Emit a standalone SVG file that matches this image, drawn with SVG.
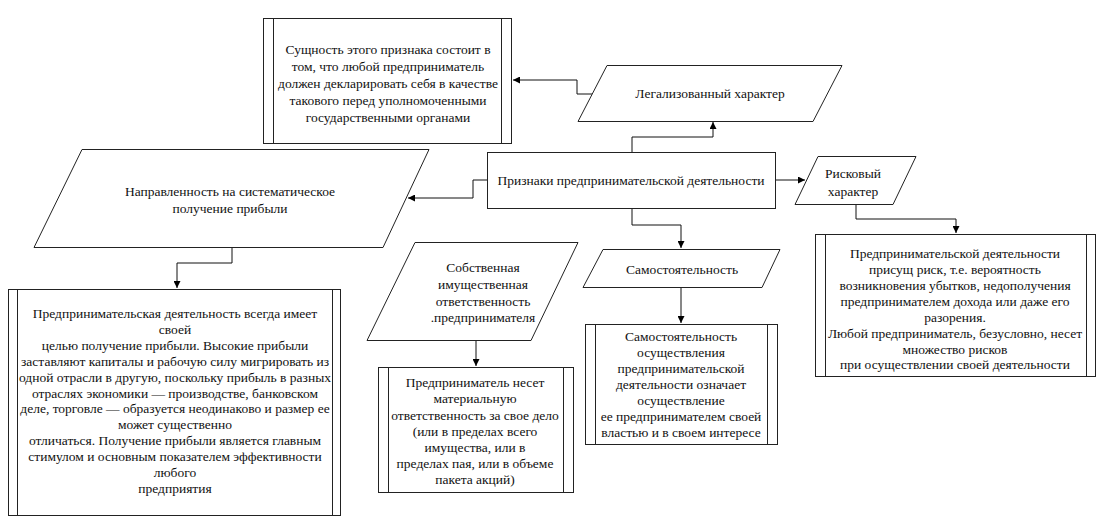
<svg xmlns="http://www.w3.org/2000/svg" width="1102" height="521" viewBox="0 0 1102 521">
<defs>
<marker id="ah" viewBox="0 0 8 8" refX="8" refY="4" markerWidth="7" markerHeight="7" markerUnits="userSpaceOnUse" orient="auto">
<path d="M0,0 L8,4 L0,8 Z" fill="#000"/>
</marker>
<style>
.sh{fill:#fff;stroke:#222;stroke-width:1}
.in{stroke:#222;stroke-width:1;fill:none}
.t{font-size:13.5px;fill:#111;text-anchor:middle;dominant-baseline:central}
.c{fill:none;stroke:#111;stroke-width:1;marker-end:url(#ah)}
</style>
</defs>
<rect width="1102" height="521" fill="#fff"/>
<g id="connectors">
<path class="c" d="M592,94 H577 V80 H513"/>
<path class="c" d="M632,152 V137 H713 V122"/>
<path class="c" d="M487,180 H473 V198 H408"/>
<path class="c" d="M232,247 V263 H177 V288"/>
<path class="c" d="M775,180 H805"/>
<path class="c" d="M856,204 V219 H956 V233"/>
<path class="c" d="M632,208 V225 H681 V248"/>
<path class="c" d="M681,287 V323"/>
<path class="c" d="M476,340 V366"/>
</g>
<g font-family="Liberation Serif, DejaVu Serif, serif">
<g id="node-essence">
<rect class="sh" x="263.5" y="18.5" width="248" height="125"/>
<line class="in" x1="273.5" y1="18.5" x2="273.5" y2="143.5"/>
<line class="in" x1="501.5" y1="18.5" x2="501.5" y2="143.5"/>
<text class="t" x="388" y="49">Сущность этого признака состоит в</text>
<text class="t" x="388" y="66">том, что любой предприниматель</text>
<text class="t" x="388" y="83">должен декларировать себя в качестве</text>
<text class="t" x="388" y="100">такового перед уполномоченными</text>
<text class="t" x="388" y="117">государственными органами</text>
</g>
<g id="node-legal">
<polygon class="sh" points="607,65.5 842,65.5 813,121.5 578,121.5"/>
<text class="t" x="710" y="93">Легализованный характер</text>
</g>
<g id="node-main">
<rect class="sh" x="487.5" y="152.5" width="288" height="56"/>
<text class="t" x="631" y="180">Признаки предпринимательской деятельности</text>
</g>
<g id="node-profit">
<polygon class="sh" points="82,149.5 429,149.5 383,247.5 34,247.5"/>
<text class="t" x="230" y="191">Направленность на систематическое</text>
<text class="t" x="230" y="208">получение прибыли</text>
</g>
<g id="node-risk">
<polygon class="sh" points="818,156.5 916,156.5 893,204.5 795,204.5"/>
<text class="t" x="853" y="173">Рисковый</text>
<text class="t" x="853" y="191">характер</text>
</g>
<g id="node-own">
<polygon class="sh" points="415,242.5 578,242.5 531,340.5 367,340.5"/>
<text class="t" x="483" y="267">Собственная</text>
<text class="t" x="483" y="284">имущественная</text>
<text class="t" x="483" y="301">ответственность</text>
<text class="t" x="483" y="317">.предпринимателя</text>
</g>
<g id="node-indep">
<polygon class="sh" points="603,249.5 780,249.5 762,287.5 583,287.5"/>
<text class="t" x="682" y="269">Самостоятельность</text>
</g>
<g id="node-profit-desc">
<rect class="sh" x="8.5" y="289.5" width="332" height="226"/>
<line class="in" x1="17.5" y1="289.5" x2="17.5" y2="515.5"/>
<line class="in" x1="332.5" y1="289.5" x2="332.5" y2="515.5"/>
<text class="t" x="175" y="313">Предпринимательская деятельность всегда имеет</text>
<text class="t" x="175" y="329">своей</text>
<text class="t" x="175" y="345">целью получение прибыли. Высокие прибыли</text>
<text class="t" x="175" y="361">заставляют капиталы и рабочую силу мигрировать из</text>
<text class="t" x="175" y="377">одной отрасли в другую, поскольку прибыль в разных</text>
<text class="t" x="175" y="393">отраслях экономики — производстве, банковском</text>
<text class="t" x="175" y="408">деле, торговле — образуется неодинаково и размер ее</text>
<text class="t" x="175" y="424">может существенно</text>
<text class="t" x="175" y="440">отличаться. Получение прибыли является главным</text>
<text class="t" x="175" y="456">стимулом и основным показателем эффективности</text>
<text class="t" x="175" y="472">любого</text>
<text class="t" x="175" y="488">предприятия</text>
</g>
<g id="node-own-desc">
<rect class="sh" x="378.5" y="367.5" width="195" height="125"/>
<line class="in" x1="388.5" y1="367.5" x2="388.5" y2="492.5"/>
<line class="in" x1="563.5" y1="367.5" x2="563.5" y2="492.5"/>
<text class="t" x="475" y="382">Предприниматель несет</text>
<text class="t" x="475" y="398">материальную</text>
<text class="t" x="475" y="415">ответственность за свое дело</text>
<text class="t" x="475" y="431">(или в пределах всего</text>
<text class="t" x="475" y="447">имущества, или в</text>
<text class="t" x="475" y="463">пределах пая, или в объеме</text>
<text class="t" x="475" y="479">пакета акций)</text>
</g>
<g id="node-indep-desc">
<rect class="sh" x="585.5" y="324.5" width="192" height="120"/>
<line class="in" x1="595.5" y1="324.5" x2="595.5" y2="444.5"/>
<line class="in" x1="767.5" y1="324.5" x2="767.5" y2="444.5"/>
<text class="t" x="681" y="336">Самостоятельность</text>
<text class="t" x="681" y="352">осуществления</text>
<text class="t" x="681" y="368">предпринимательской</text>
<text class="t" x="681" y="384">деятельности означает</text>
<text class="t" x="681" y="400">осуществление</text>
<text class="t" x="681" y="416">ее предпринимателем своей</text>
<text class="t" x="681" y="432">властью и в своем интересе</text>
</g>
<g id="node-risk-desc">
<rect class="sh" x="815.5" y="234.5" width="280" height="142"/>
<line class="in" x1="825.5" y1="234.5" x2="825.5" y2="376.5"/>
<line class="in" x1="1086.5" y1="234.5" x2="1086.5" y2="376.5"/>
<text class="t" x="955" y="253">Предпринимательской деятельности</text>
<text class="t" x="955" y="269">присущ риск, т.е. вероятность</text>
<text class="t" x="955" y="285">возникновения убытков, недополучения</text>
<text class="t" x="955" y="301">предпринимателем дохода или даже его</text>
<text class="t" x="955" y="317">разорения.</text>
<text class="t" x="955" y="333">Любой предприниматель, безусловно, несет</text>
<text class="t" x="955" y="349">множество рисков</text>
<text class="t" x="955" y="364">при осуществлении своей деятельности</text>
</g>
</g>
</svg>
